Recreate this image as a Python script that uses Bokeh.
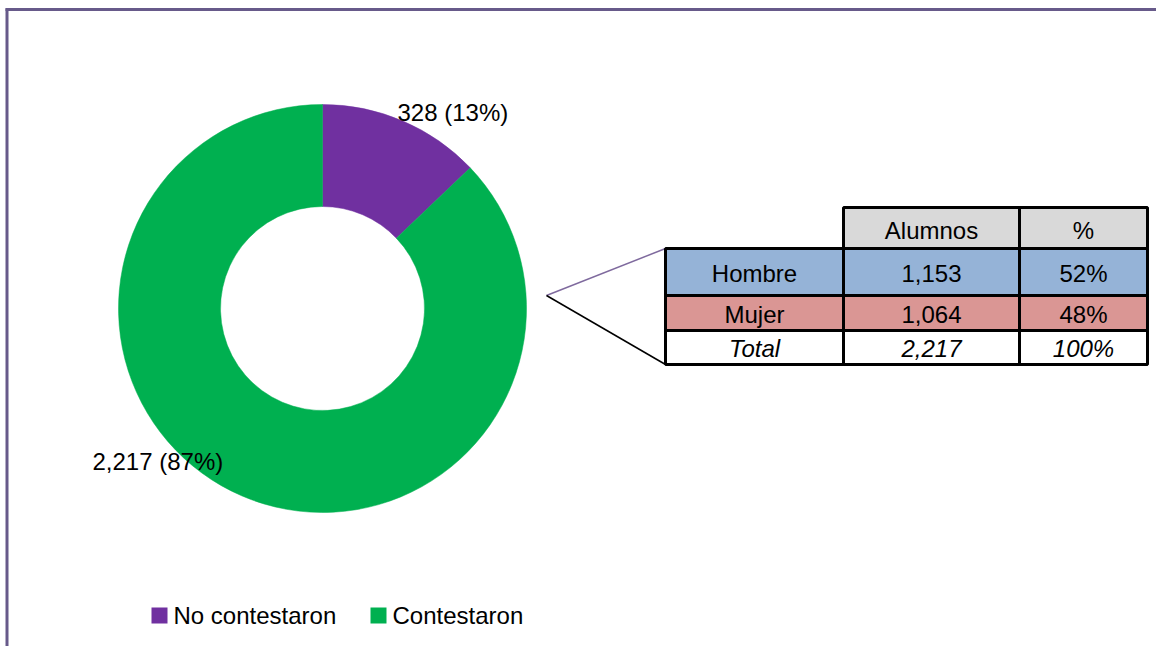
import math
from bokeh.plotting import figure
from bokeh.models import Range1d
from bokeh.core.properties import value
from bokeh.embed import file_html
from bokeh.resources import INLINE

# ---- data ----
categories = ["No contestaron", "Contestaron"]
counts = [328, 2217]
colors = ["#7030A0", "#00B050"]

table_rows = ["Hombre", "Mujer", "Total"]
table_header = ["Alumnos", "%"]
table_alumnos = [1153, 1064]          # Hombre, Mujer
row_colors = ["#95B3D7", "#DA9694", "#FFFFFF"]
header_color = "#D9D9D9"

# ---- layout constants (pixels in figure space, y up) ----
W, H = 1156, 646
FONT = value("Liberation Sans")
FS = "24px"

p = figure(width=W, height=H, x_range=Range1d(0, W), y_range=Range1d(0, H),
           output_backend="svg", toolbar_location=None,
           x_axis_location=None, y_axis_location=None,
           min_border=0, outline_line_color=None)
p.grid.visible = False
p.background_fill_color = "white"

# chart border (left and top visible)
border_col = "#675A8A"
p.line(x=[6.5, 6.5], y=[-5, 638], line_color=border_col, line_width=3)
p.line(x=[5, W + 5], y=[637, 637], line_color=border_col, line_width=3)

# ---- donut ----
cx, cy = 322, 338
r_out, r_in = 204, 102
total = sum(counts)
cum = 0.0
starts, ends = [], []
for c in counts:
    starts.append(math.pi / 2 - 2 * math.pi * cum / total)
    cum += c
    ends.append(math.pi / 2 - 2 * math.pi * cum / total)

p.annular_wedge(x=[cx] * len(counts), y=[cy] * len(counts),
                inner_radius=r_in, outer_radius=r_out,
                start_angle=starts, end_angle=ends, direction="clock",
                fill_color=colors, line_color=colors, line_width=0.5)

labels = [f"{c:,} ({round(100 * c / total)}%)" for c in counts]
label_x = [397, 92]
label_y = [534, 185]
p.text(x=label_x, y=label_y, text=labels, text_font=FONT, text_font_size=FS,
       text_align="left", text_baseline="middle", text_color="black")

# ---- callout lines ----
apex = (546, 351)
col_x = [665, 843, 1019, 1147]
row_y = [439, 398, 351, 316, 282]  # header top, header bottom, ..., bottom
p.line(x=[apex[0], col_x[0]], y=[apex[1], row_y[1]], line_color="#7F6A9E", line_width=1.5)
p.line(x=[apex[0], col_x[0]], y=[apex[1], row_y[-1]], line_color="black", line_width=1.5)

# ---- table ----
tot_alumnos = sum(table_alumnos)
alumnos_all = table_alumnos + [tot_alumnos]
pcts = [f"{round(100 * a / tot_alumnos)}%" for a in alumnos_all]

# header cells
p.quad(left=col_x[1:3], right=col_x[2:4], top=[row_y[0]] * 2, bottom=[row_y[1]] * 2,
       fill_color=header_color, line_color="black", line_width=3)
# body cells
L, R, T, B, F = [], [], [], [], []
for i in range(len(table_rows)):
    for j in range(3):
        L.append(col_x[j]); R.append(col_x[j + 1])
        T.append(row_y[i + 1]); B.append(row_y[i + 2])
        F.append(row_colors[i])
p.quad(left=L, right=R, top=T, bottom=B, fill_color=F, line_color="black", line_width=3)

# header text
hx = [(col_x[1] + col_x[2]) / 2, (col_x[2] + col_x[3]) / 2]
hy = [(row_y[0] + row_y[1]) / 2 - 2] * 2
p.text(x=hx, y=hy, text=table_header, text_font=FONT, text_font_size=FS,
       text_align="center", text_baseline="middle", text_color="black")

cxs = [(col_x[j] + col_x[j + 1]) / 2 for j in range(3)]
for i, name in enumerate(table_rows):
    yc = (row_y[i + 1] + row_y[i + 2]) / 2 - 1
    style = "italic" if name == "Total" else "normal"
    p.text(x=cxs, y=[yc] * 3, text=[name, f"{alumnos_all[i]:,}", pcts[i]],
           text_font=FONT, text_font_size=FS, text_font_style=style,
           text_align="center", text_baseline="middle", text_color="black")

# ---- legend ----
leg_sq_x = [159, 378]
leg_txt_x = [173, 392]
leg_y = 31
p.rect(x=leg_sq_x, y=[leg_y] * 2, width=16, height=16, fill_color=colors, line_color=None)
p.text(x=leg_txt_x, y=[leg_y] * 2, text=categories, text_font=FONT, text_font_size=FS,
       text_align="left", text_baseline="middle", text_color="black")

open("out.html", "w").write(file_html(p, INLINE))
